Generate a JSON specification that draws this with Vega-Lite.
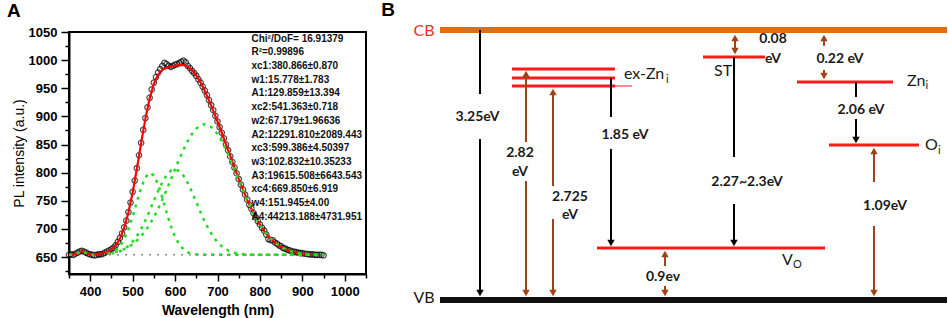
{
  "$schema": "https://vega.github.io/schema/vega-lite/v6.json",
  "padding": {"left": 5, "top": 0, "right": 0, "bottom": 0},
  "autosize": {"type": "pad"},
  "bounds": "flush",
  "spacing": 16,
  "background": "white",
  "config": {"font": "Liberation Sans", "view": {"stroke": null}},
  "datasets": {
    "spec": [
      {"wl":350,"v":654},{"wl":355,"v":655},{"wl":360,"v":654},{"wl":365,"v":656},{"wl":370,"v":658},{"wl":375,"v":660},{"wl":380,"v":661},{"wl":385,"v":660},{"wl":390,"v":658},{"wl":395,"v":656},
      {"wl":400,"v":655},{"wl":405,"v":654},{"wl":410,"v":653},{"wl":415,"v":654},{"wl":420,"v":655},{"wl":425,"v":655},{"wl":430,"v":656},{"wl":435,"v":658},{"wl":440,"v":660},{"wl":445,"v":662},
      {"wl":450,"v":664},{"wl":455,"v":667},{"wl":460,"v":671},{"wl":465,"v":677},{"wl":470,"v":684},{"wl":475,"v":692},{"wl":480,"v":703},{"wl":485,"v":715},{"wl":490,"v":730},{"wl":495,"v":747},
      {"wl":500,"v":766},{"wl":505,"v":786},{"wl":510,"v":808},{"wl":515,"v":831},{"wl":520,"v":853},{"wl":525,"v":876},{"wl":530,"v":897},{"wl":535,"v":916},{"wl":540,"v":933},{"wl":545,"v":948},
      {"wl":550,"v":960},{"wl":555,"v":970},{"wl":560,"v":978},{"wl":565,"v":984},{"wl":570,"v":990},{"wl":575,"v":995},{"wl":580,"v":993},{"wl":585,"v":990},{"wl":590,"v":988},{"wl":595,"v":990},
      {"wl":600,"v":992},{"wl":605,"v":993},{"wl":610,"v":995},{"wl":615,"v":997},{"wl":620,"v":999},{"wl":625,"v":996},{"wl":630,"v":990},{"wl":635,"v":986},{"wl":640,"v":981},{"wl":645,"v":977},
      {"wl":650,"v":972},{"wl":655,"v":966},{"wl":660,"v":960},{"wl":665,"v":953},{"wl":670,"v":946},{"wl":675,"v":938},{"wl":680,"v":929},{"wl":685,"v":920},{"wl":690,"v":911},{"wl":695,"v":901},
      {"wl":700,"v":891},{"wl":705,"v":881},{"wl":710,"v":871},{"wl":715,"v":861},{"wl":720,"v":850},{"wl":725,"v":840},{"wl":730,"v":829},{"wl":735,"v":819},{"wl":740,"v":809},{"wl":745,"v":799},
      {"wl":750,"v":789},{"wl":755,"v":779},{"wl":760,"v":770},{"wl":765,"v":761},{"wl":770,"v":752},{"wl":775,"v":743},{"wl":780,"v":736},{"wl":785,"v":728},{"wl":790,"v":721},{"wl":795,"v":714},
      {"wl":800,"v":708},{"wl":805,"v":702},{"wl":810,"v":697},{"wl":815,"v":690},{"wl":820,"v":682},{"wl":825,"v":680},{"wl":830,"v":680},{"wl":835,"v":676},{"wl":840,"v":674},{"wl":845,"v":671},
      {"wl":850,"v":669},{"wl":855,"v":666},{"wl":860,"v":665},{"wl":865,"v":663},{"wl":870,"v":662},{"wl":875,"v":660},{"wl":880,"v":660},{"wl":885,"v":659},{"wl":890,"v":658},{"wl":895,"v":657},
      {"wl":900,"v":657},{"wl":905,"v":656},{"wl":910,"v":656},{"wl":915,"v":655},{"wl":920,"v":655},{"wl":925,"v":655},{"wl":930,"v":654},{"wl":935,"v":654},{"wl":940,"v":654},{"wl":945,"v":654},{"wl":950,"v":653}
    ],
    "fit": [
      {"wl":350,"p1":654.0,"p2":654.0,"p3":654.0,"p4":654.1,"fit":654.1},
      {"wl":360,"p1":654.2,"p2":654.0,"p3":654.0,"p4":654.1,"fit":654.3},
      {"wl":370,"p1":656.5,"p2":654.0,"p3":654.0,"p4":654.2,"fit":656.7},
      {"wl":380,"p1":660.6,"p2":654.0,"p3":654.0,"p4":654.2,"fit":660.9},
      {"wl":390,"p1":657.4,"p2":654.0,"p3":654.0,"p4":654.3,"fit":657.7},
      {"wl":400,"p1":654.4,"p2":654.0,"p3":654.1,"p4":654.4,"fit":654.9},
      {"wl":410,"p1":654.0,"p2":654.1,"p3":654.2,"p4":654.7,"fit":654.9},
      {"wl":420,"p1":654.0,"p2":654.2,"p3":654.4,"p4":655.0,"fit":655.6},
      {"wl":430,"p1":654.0,"p2":654.6,"p3":654.7,"p4":655.6,"fit":656.9},
      {"wl":440,"p1":654.0,"p2":655.5,"p3":655.3,"p4":656.4,"fit":659.2},
      {"wl":450,"p1":654.0,"p2":657.6,"p3":656.2,"p4":657.5,"fit":663.4},
      {"wl":460,"p1":654.0,"p2":661.8,"p3":657.9,"p4":659.1,"fit":670.7},
      {"wl":470,"p1":654.0,"p2":669.3,"p3":660.4,"p4":661.3,"fit":683.0},
      {"wl":480,"p1":654.0,"p2":681.5,"p3":664.3,"p4":664.2,"fit":702.0},
      {"wl":490,"p1":654.0,"p2":699.3,"p3":669.8,"p4":668.1,"fit":729.2},
      {"wl":500,"p1":654.0,"p2":722.3,"p3":677.5,"p4":673.1,"fit":764.9},
      {"wl":510,"p1":654.0,"p2":748.3,"p3":687.6,"p4":679.4,"fit":807.3},
      {"wl":520,"p1":654.0,"p2":773.2,"p3":700.2,"p4":687.2,"fit":852.6},
      {"wl":530,"p1":654.0,"p2":791.8,"p3":715.2,"p4":696.7,"fit":895.7},
      {"wl":540,"p1":654.0,"p2":799.9,"p3":732.1,"p4":707.9,"fit":931.9},
      {"wl":550,"p1":654.0,"p2":795.3,"p3":749.9,"p4":720.9,"fit":958.1},
      {"wl":560,"p1":654.0,"p2":779.3,"p3":767.5,"p4":735.6,"fit":974.4},
      {"wl":570,"p1":654.0,"p2":755.6,"p3":783.2,"p4":751.9,"fit":982.7},
      {"wl":580,"p1":654.0,"p2":729.4,"p3":795.7,"p4":769.4,"fit":986.5},
      {"wl":590,"p1":654.0,"p2":705.3,"p3":803.7,"p4":787.7,"fit":988.7},
      {"wl":600,"p1":654.0,"p2":685.9,"p3":806.2,"p4":806.2,"fit":990.3},
      {"wl":610,"p1":654.0,"p2":672.1,"p3":803.0,"p4":824.2,"fit":991.3},
      {"wl":620,"p1":654.0,"p2":663.5,"p3":794.5,"p4":841.2,"fit":991.2},
      {"wl":630,"p1":654.0,"p2":658.5,"p3":781.5,"p4":856.3,"fit":988.3},
      {"wl":640,"p1":654.0,"p2":656.0,"p3":765.4,"p4":868.9,"fit":982.3},
      {"wl":650,"p1":654.0,"p2":654.8,"p3":747.8,"p4":878.4,"fit":973.0},
      {"wl":660,"p1":654.0,"p2":654.3,"p3":730.0,"p4":884.3,"fit":960.6},
      {"wl":670,"p1":654.0,"p2":654.1,"p3":713.3,"p4":886.2,"fit":945.6},
      {"wl":680,"p1":654.0,"p2":654.0,"p3":698.5,"p4":884.1,"fit":928.6},
      {"wl":690,"p1":654.0,"p2":654.0,"p3":686.2,"p4":878.2,"fit":910.4},
      {"wl":700,"p1":654.0,"p2":654.0,"p3":676.4,"p4":868.6,"fit":891.0},
      {"wl":710,"p1":654.0,"p2":654.0,"p3":669.1,"p4":855.9,"fit":871.0},
      {"wl":720,"p1":654.0,"p2":654.0,"p3":663.7,"p4":840.8,"fit":850.5},
      {"wl":730,"p1":654.0,"p2":654.0,"p3":660.0,"p4":823.7,"fit":829.7},
      {"wl":740,"p1":654.0,"p2":654.0,"p3":657.6,"p4":805.6,"fit":809.2},
      {"wl":750,"p1":654.0,"p2":654.0,"p3":656.1,"p4":787.1,"fit":789.2},
      {"wl":760,"p1":654.0,"p2":654.0,"p3":655.2,"p4":768.8,"fit":770.0},
      {"wl":770,"p1":654.0,"p2":654.0,"p3":654.6,"p4":751.4,"fit":752.0},
      {"wl":780,"p1":654.0,"p2":654.0,"p3":654.3,"p4":735.2,"fit":735.5},
      {"wl":790,"p1":654.0,"p2":654.0,"p3":654.2,"p4":720.5,"fit":720.7},
      {"wl":800,"p1":654.0,"p2":654.0,"p3":654.1,"p4":707.5,"fit":707.6},
      {"wl":810,"p1":654.0,"p2":654.0,"p3":654.0,"p4":696.4,"fit":696.4},
      {"wl":820,"p1":654.0,"p2":654.0,"p3":654.0,"p4":686.9,"fit":686.9},
      {"wl":830,"p1":654.0,"p2":654.0,"p3":654.0,"p4":679.2,"fit":679.2},
      {"wl":840,"p1":654.0,"p2":654.0,"p3":654.0,"p4":672.9,"fit":672.9},
      {"wl":850,"p1":654.0,"p2":654.0,"p3":654.0,"p4":668.0,"fit":668.0},
      {"wl":860,"p1":654.0,"p2":654.0,"p3":654.0,"p4":664.1,"fit":664.1},
      {"wl":870,"p1":654.0,"p2":654.0,"p3":654.0,"p4":661.2,"fit":661.2},
      {"wl":880,"p1":654.0,"p2":654.0,"p3":654.0,"p4":659.1,"fit":659.1},
      {"wl":890,"p1":654.0,"p2":654.0,"p3":654.0,"p4":657.5,"fit":657.5},
      {"wl":900,"p1":654.0,"p2":654.0,"p3":654.0,"p4":656.4,"fit":656.4},
      {"wl":910,"p1":654.0,"p2":654.0,"p3":654.0,"p4":655.6,"fit":655.6},
      {"wl":920,"p1":654.0,"p2":654.0,"p3":654.0,"p4":655.0,"fit":655.0},
      {"wl":930,"p1":654.0,"p2":654.0,"p3":654.0,"p4":654.7,"fit":654.7},
      {"wl":940,"p1":654.0,"p2":654.0,"p3":654.0,"p4":654.4,"fit":654.4},
      {"wl":950,"p1":654.0,"p2":654.0,"p3":654.0,"p4":654.3,"fit":654.3}
    ],
    "notes": [
      {"wl":780,"v":1047,"t":"Chi²/DoF= 16.91379\nR²=0.99896\nxc1:380.866±0.870\nw1:15.778±1.783\nA1:129.859±13.394\nxc2:541.363±0.718\nw2:67.179±1.96636\nA2:12291.810±2089.443\nxc3:599.386±4.50397\nw3:102.832±10.35233\nA3:19615.508±6643.543\nxc4:669.850±6.919\nw4:151.945±4.00\nA4:44213.188±4731.951"}
    ],
    "levels": [
      {"lvl":"CB","x":58,"x2":565,"e":3.25,"k":"cb"},
      {"lvl":"VB","x":58,"x2":565,"e":0,"k":"vb"},
      {"lvl":"exZn1","x":130,"x2":233,"e":2.781,"k":"red"},
      {"lvl":"exZn2","x":130,"x2":233,"e":2.672,"k":"red"},
      {"lvl":"exZn3","x":130,"x2":233,"e":2.576,"k":"red"},
      {"lvl":"exZn3tail","x":233,"x2":250,"e":2.576,"k":"thin"},
      {"lvl":"Vo","x":215,"x2":443,"e":0.626,"k":"red"},
      {"lvl":"ST","x":321,"x2":383,"e":2.925,"k":"red"},
      {"lvl":"Zni","x":415,"x2":511,"e":2.624,"k":"red"},
      {"lvl":"Oi","x":447,"x2":537,"e":1.866,"k":"red"}
    ],
    "segs": [
      {"x":98,"e":3.25,"e2":2.48,"k":"black"},
      {"x":98,"e":1.938,"e2":0.12,"k":"black"},
      {"x":229,"e":2.672,"e2":2.203,"k":"black"},
      {"x":229,"e":1.818,"e2":0.70,"k":"black"},
      {"x":352,"e":2.925,"e2":1.721,"k":"black"},
      {"x":352,"e":1.156,"e2":0.70,"k":"black"},
      {"x":474,"e":2.624,"e2":2.444,"k":"black"},
      {"x":474,"e":2.179,"e2":1.93,"k":"black"},
      {"x":144,"e":2.72,"e2":1.902,"k":"brown"},
      {"x":144,"e":1.433,"e2":0.10,"k":"brown"},
      {"x":171,"e":2.50,"e2":1.372,"k":"brown"},
      {"x":171,"e":0.975,"e2":0.10,"k":"brown"},
      {"x":283,"e":0.56,"e2":0.41,"k":"brown"},
      {"x":283,"e":0.169,"e2":0.08,"k":"brown"},
      {"x":353,"e":3.15,"e2":3.0,"k":"brown"},
      {"x":442,"e":3.15,"e2":3.06,"k":"brown"},
      {"x":442,"e":2.77,"e2":2.70,"k":"brown"},
      {"x":492,"e":1.79,"e2":1.421,"k":"brown"},
      {"x":492,"e":0.891,"e2":0.10,"k":"brown"}
    ],
    "heads": [
      {"x":98,"e":0.084,"d":"down","k":"black"},
      {"x":229,"e":0.686,"d":"down","k":"black"},
      {"x":352,"e":0.686,"d":"down","k":"black"},
      {"x":474,"e":1.926,"d":"down","k":"black"},
      {"x":144,"e":2.721,"d":"up","k":"brown"},
      {"x":144,"e":0.084,"d":"down","k":"brown"},
      {"x":171,"e":2.504,"d":"up","k":"brown"},
      {"x":171,"e":0.084,"d":"down","k":"brown"},
      {"x":283,"e":0.554,"d":"up","k":"brown"},
      {"x":283,"e":0.084,"d":"down","k":"brown"},
      {"x":353,"e":3.154,"d":"up","k":"brown"},
      {"x":353,"e":2.997,"d":"down","k":"brown"},
      {"x":442,"e":3.154,"d":"up","k":"brown"},
      {"x":442,"e":2.697,"d":"down","k":"brown"},
      {"x":492,"e":1.794,"d":"up","k":"brown"},
      {"x":492,"e":0.084,"d":"down","k":"brown"}
    ],
    "nums": [
      {"x":95.5,"e":2.203,"t":"3.25eV"},
      {"x":138,"e":1.770,"t":"2.82"},
      {"x":138,"e":1.541,"t":"eV"},
      {"x":188,"e":1.240,"t":"2.725"},
      {"x":188,"e":1.023,"t":"eV"},
      {"x":243,"e":1.986,"t":"1.85 eV"},
      {"x":281,"e":0.277,"t":"0.9ev"},
      {"x":391,"e":3.142,"t":"0.08"},
      {"x":391,"e":2.901,"t":"eV"},
      {"x":458,"e":2.901,"t":"0.22 eV"},
      {"x":365,"e":1.420,"t":"2.27~2.3eV"},
      {"x":479,"e":2.287,"t":"2.06 eV"},
      {"x":503,"e":1.132,"t":"1.09eV"}
    ],
    "names": [
      {"x":242,"e":2.721,"t":"ex-Zn"},
      {"x":332,"e":2.757,"t":"ST"},
      {"x":525,"e":2.636,"t":"Zn"},
      {"x":543,"e":1.866,"t":"O"},
      {"x":400,"e":0.482,"t":"V"}
    ],
    "subs": [
      {"x":284,"e":2.648,"t":"i"},
      {"x":543.5,"e":2.570,"t":"i"},
      {"x":556,"e":1.794,"t":"i"},
      {"x":411,"e":0.421,"t":"O"}
    ]
  },
  "hconcat": [
    {
      "width": 297,
      "height": 242,
      "view": {"stroke": "black", "strokeWidth": 2},
      "encoding": {
        "x": {
          "field": "wl", "type": "quantitative", "title": "Wavelength (nm)",
          "scale": {"domain": [350, 1050], "nice": false, "zero": false},
          "axis": {
            "values": [350,400,450,500,550,600,650,700,750,800,850,900,950,1000,1050],
            "labelExpr": "datum.value % 100 === 0 ? datum.label : ''",
            "tickSize": {"condition": {"test": "datum.value % 100 === 0", "value": 7}, "value": 4},
            "grid": false, "format": "d", "labelOverlap": false, "labelFlush": false,
            "domainColor": "black", "domainWidth": 2, "tickColor": "black", "tickWidth": 1.5,
            "labelFont": "Liberation Sans", "labelFontWeight": "bold", "labelFontSize": 13, "labelColor": "black", "labelPadding": 4,
            "titleFont": "Liberation Sans", "titleFontWeight": "bold", "titleFontSize": 14, "titleColor": "black", "titlePadding": 5
          }
        },
        "y": {
          "field": "v", "type": "quantitative", "title": "PL intensity (a.u.)",
          "scale": {"domain": [620, 1050], "nice": false, "zero": false},
          "axis": {
            "values": [625,650,675,700,725,750,775,800,825,850,875,900,925,950,975,1000,1025,1050],
            "labelExpr": "datum.value % 50 === 0 ? datum.label : ''",
            "tickSize": {"condition": {"test": "datum.value % 50 === 0", "value": 8}, "value": 4},
            "grid": false, "format": "d", "labelOverlap": false, "labelFlush": false,
            "domainColor": "black", "domainWidth": 2, "tickColor": "black", "tickWidth": 1.5,
            "labelFont": "Liberation Sans", "labelFontWeight": "bold", "labelFontSize": 13, "labelColor": "black", "labelPadding": 4,
            "titleFont": "Liberation Sans", "titleFontWeight": "normal", "titleFontSize": 14, "titleColor": "black", "titlePadding": 2
          }
        }
      },
      "layer": [
        {
          "data": {"values": [{"wl": 350, "wl2": 950, "v": 654}]},
          "mark": {"type": "rule", "color": "#8c8c8c", "strokeWidth": 1.5, "strokeDash": [2, 6]},
          "encoding": {"x2": {"field": "wl2"}}
        },
        {
          "data": {"name": "spec"},
          "mark": {"type": "point", "shape": "circle", "filled": false, "stroke": "black", "strokeWidth": 1.2, "size": 30}
        },
        {
          "data": {"name": "fit"},
          "transform": [{"filter": "datum.wl <= 920"}, {"fold": ["fit"], "as": ["s", "v"]}],
          "mark": {"type": "line", "color": "#ff0000", "strokeWidth": 2.2}
        },
        {
          "data": {"name": "fit"},
          "transform": [
            {"fold": ["p1", "p2", "p3", "p4"], "as": ["s", "v"]},
            {"filter": "(datum.s === 'p1' && datum.wl <= 420) || (datum.s === 'p4' && datum.wl >= 440) || (datum.s === 'p3' && datum.wl >= 450) || (datum.s === 'p2' && datum.wl >= 460)"}
          ],
          "mark": {"type": "line", "color": "#22dd22", "strokeWidth": 2.5, "strokeDash": [3, 5]},
          "encoding": {"detail": {"field": "s"}}
        },
        {
          "data": {"name": "notes"},
          "mark": {"type": "text", "align": "left", "baseline": "top", "lineBreak": "\n", "lineHeight": 13.7, "font": "Liberation Sans", "fontWeight": "bold", "fontSize": 10, "color": "#111111"},
          "encoding": {"text": {"field": "t"}}
        },
        {
          "data": {"values": [{"t": "A", "wl": 220, "v": 1088}]},
          "mark": {"type": "text", "align": "center", "baseline": "middle", "font": "Liberation Sans", "fontWeight": "bold", "fontSize": 19, "color": "black"},
          "encoding": {"text": {"field": "t"}}
        }
      ]
    },
    {
      "width": 568,
      "height": 268,
      "view": {"stroke": null},
      "encoding": {
        "x": {"field": "x", "type": "quantitative", "axis": null, "scale": {"domain": [0, 568], "nice": false, "zero": false}},
        "y": {"field": "e", "type": "quantitative", "axis": null, "scale": {"domain": [0, 3.226], "nice": false, "zero": false}}
      },
      "layer": [
        {
          "data": {"name": "levels"},
          "transform": [{"filter": "datum.k === 'cb'"}],
          "mark": {"type": "rule", "color": "#e46c0a", "strokeWidth": 6},
          "encoding": {"x2": {"field": "x2"}}
        },
        {
          "data": {"name": "levels"},
          "transform": [{"filter": "datum.k === 'vb'"}],
          "mark": {"type": "rule", "color": "#111111", "strokeWidth": 6},
          "encoding": {"x2": {"field": "x2"}}
        },
        {
          "data": {"name": "levels"},
          "transform": [{"filter": "datum.k === 'red'"}],
          "mark": {"type": "rule", "color": "#ff1a1a", "strokeWidth": 3},
          "encoding": {"x2": {"field": "x2"}}
        },
        {
          "data": {"name": "levels"},
          "transform": [{"filter": "datum.k === 'thin'"}],
          "mark": {"type": "rule", "color": "#ff1a1a", "strokeWidth": 1},
          "encoding": {"x2": {"field": "x2"}}
        },
        {
          "data": {"name": "segs"},
          "mark": {"type": "rule", "strokeWidth": 2},
          "encoding": {
            "y2": {"field": "e2"},
            "color": {"field": "k", "type": "nominal", "legend": null, "scale": {"domain": ["black", "brown"], "range": ["#000000", "#9e4318"]}}
          }
        },
        {
          "data": {"name": "heads"},
          "mark": {"type": "point", "filled": true, "size": 55, "opacity": 1},
          "encoding": {
            "shape": {"field": "d", "type": "nominal", "legend": null, "scale": {"domain": ["down", "up"], "range": ["triangle-down", "triangle-up"]}},
            "color": {"field": "k", "type": "nominal", "legend": null, "scale": {"domain": ["black", "brown"], "range": ["#000000", "#9e4318"]}}
          }
        },
        {
          "data": {"name": "nums"},
          "mark": {"type": "text", "align": "center", "baseline": "middle", "font": "Lato", "fontWeight": "bold", "fontSize": 14, "color": "#1a1a1a"},
          "encoding": {"text": {"field": "t"}}
        },
        {
          "data": {"name": "names"},
          "mark": {"type": "text", "align": "left", "baseline": "middle", "font": "Lato", "fontSize": 16, "color": "#1a1a1a"},
          "encoding": {"text": {"field": "t"}}
        },
        {
          "data": {"name": "subs"},
          "mark": {"type": "text", "align": "left", "baseline": "middle", "font": "Lato", "fontSize": 11, "color": "#1a1a1a"},
          "encoding": {"text": {"field": "t"}}
        },
        {
          "data": {"values": [{"t": "CB", "x": 42, "e": 3.244}]},
          "mark": {"type": "text", "align": "center", "baseline": "middle", "font": "Lato", "fontSize": 16, "color": "#e8332b"},
          "encoding": {"text": {"field": "t"}}
        },
        {
          "data": {"values": [{"t": "VB", "x": 42, "e": 0.024}]},
          "mark": {"type": "text", "align": "center", "baseline": "middle", "font": "Lato", "fontSize": 16, "color": "#1a1a1a"},
          "encoding": {"text": {"field": "t"}}
        },
        {
          "data": {"values": [{"t": "B", "x": 6, "e": 3.49}]},
          "mark": {"type": "text", "align": "center", "baseline": "middle", "font": "Liberation Sans", "fontWeight": "bold", "fontSize": 19, "color": "black"},
          "encoding": {"text": {"field": "t"}}
        }
      ]
    }
  ]
}
